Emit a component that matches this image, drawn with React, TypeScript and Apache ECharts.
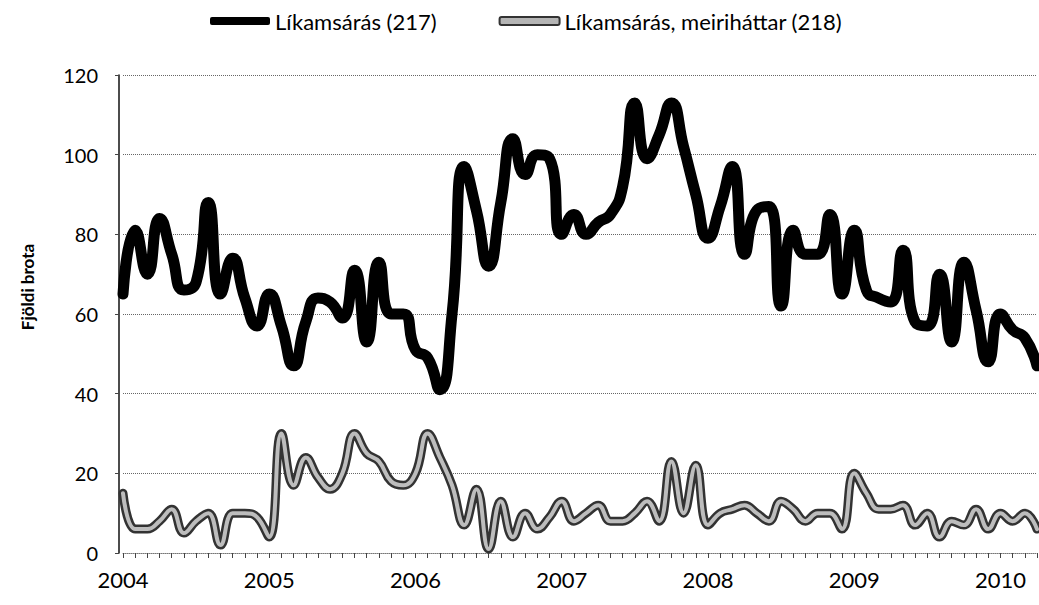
import React, { useEffect, useRef } from "react";
import * as echarts from "echarts";

const years = [2004, 2005, 2006, 2007, 2008, 2009, 2010];
const monthsInLastYear = 4;

// Líkamsárás (217), monthly Jan 2004 – Apr 2010
const assault217 = [
  65, 81, 70, 84, 75, 66, 68, 88, 65, 74, 64, 57,
  65, 57, 47, 58, 64, 63, 59, 71, 53, 73, 60, 60,
  51, 49, 41, 60, 97, 86, 72, 88, 104, 95, 100, 99,
  80, 85, 80, 83, 85, 92, 113, 99, 105, 113, 102, 90,
  79, 87, 97, 75, 86, 87, 62, 81, 75, 75, 85, 65,
  81, 66, 64, 63, 76, 58, 57, 70, 53, 73, 61, 48,
  60, 56, 54, 47,
];

// Líkamsárás, meiriháttar (218)
const assault218 = [
  15, 6, 6, 8, 11, 5, 8, 10, 2, 10, 10, 9,
  4, 30, 17, 24, 19, 16, 20, 30, 25, 23, 18, 17,
  20, 30, 24, 17, 7, 16, 1, 13, 4, 10, 6, 9,
  13, 8, 10, 12, 8, 8, 10, 13, 8, 23, 10, 22,
  7, 10, 11, 12, 10, 8, 13, 11, 8, 10, 10, 6,
  20, 15, 11, 11, 12, 7, 10, 4, 8, 7, 11, 6,
  10, 8, 10, 6,
];

const yTicks = [0, 20, 40, 60, 80, 100, 120];
const name217 = "Líkamsárás (217)";
const name218 = "Líkamsárás, meiriháttar (218)";
const yAxisTitle = "Fjöldi brota";

const categories: string[] = [];
years.forEach((y, i) => {
  const n = i === years.length - 1 ? monthsInLastYear : 12;
  for (let m = 1; m <= n; m++) categories.push(`${y}-${String(m).padStart(2, "0")}`);
});

const FONT = "Lato, 'Open Sans', sans-serif";

export default function App() {
  const ref = useRef<HTMLDivElement>(null);
  useEffect(() => {
    if (!ref.current) return;
    const chart = echarts.init(ref.current, undefined, { renderer: "svg" });
    chart.setOption({
      animation: false,
      backgroundColor: "#ffffff",
      textStyle: { fontFamily: FONT },
      legend: {
        top: 5,
        left: 205,
        itemGap: 62,
        itemWidth: 60,
        itemHeight: 8,
        textStyle: { fontFamily: FONT, fontSize: 22, color: "#000" },
        data: [
          { name: name217, icon: "roundRect", itemStyle: { color: "#000", borderWidth: 0 } },
          {
            name: name218,
            icon: "roundRect",
            itemStyle: { color: "#b5b5b5", borderColor: "#333", borderWidth: 2 },
          },
        ],
      },
      graphic: [
        {
          type: "text",
          x: 27,
          y: 287,
          rotation: Math.PI / 2,
          style: {
            text: yAxisTitle,
            font: `bold 17px ${FONT}`,
            fill: "#000",
            textAlign: "center",
            textVerticalAlign: "middle",
          },
        },
      ],
      grid: { left: 123, right: 2, top: 75, bottom: 52, containLabel: false },
      xAxis: {
        type: "category",
        data: categories,
        boundaryGap: false,
        axisLine: { show: true, lineStyle: { color: "#777", type: "dotted", width: 1 } },
        axisTick: {
          show: true,
          interval: 0,
          length: 5,
          lineStyle: { color: "#444", width: 1 },
        },
        axisLabel: {
          interval: (idx: number) => idx % 12 === 0,
          formatter: (v: string) => v.slice(0, 4),
          fontFamily: FONT,
          fontSize: 22,
          color: "#000",
          margin: 15,
        },
        splitLine: { show: false },
      },
      yAxis: {
        type: "value",
        min: 0,
        max: 120,
        interval: 20,
        offset: 4,
        axisLine: { show: true, lineStyle: { color: "#111", width: 1.5 } },
        axisTick: { show: true, inside: false, length: 4, lineStyle: { color: "#444" } },
        axisLabel: {
          fontFamily: FONT,
          fontSize: 20,
          color: "#000",
          margin: 21,
          formatter: (v: number) => (yTicks.includes(v) ? String(v) : ""),
        },
        splitLine: { show: true, lineStyle: { color: "#666", type: "dotted", width: 1 } },
      },
      series: [
        {
          name: name218,
          type: "line",
          data: assault218,
          smooth: 0.45,
          symbol: "none",
          lineStyle: { color: "#333", width: 9, cap: "round", join: "round" },
          z: 2,
        },
        {
          name: "inner218",
          type: "line",
          data: assault218,
          smooth: 0.45,
          symbol: "none",
          lineStyle: { color: "#bdbdbd", width: 4, cap: "round", join: "round" },
          z: 3,
          silent: true,
        },
        {
          name: name217,
          type: "line",
          data: assault217,
          smooth: 0.55,
          symbol: "none",
          lineStyle: { color: "#000", width: 11, cap: "round", join: "round" },
          z: 4,
        },
      ],
    });
    return () => chart.dispose();
  }, []);
  return (
    <div
      ref={ref}
      style={{ position: "fixed", left: 0, top: 0, width: 1039, height: 605, background: "#fff" }}
    />
  );
}
